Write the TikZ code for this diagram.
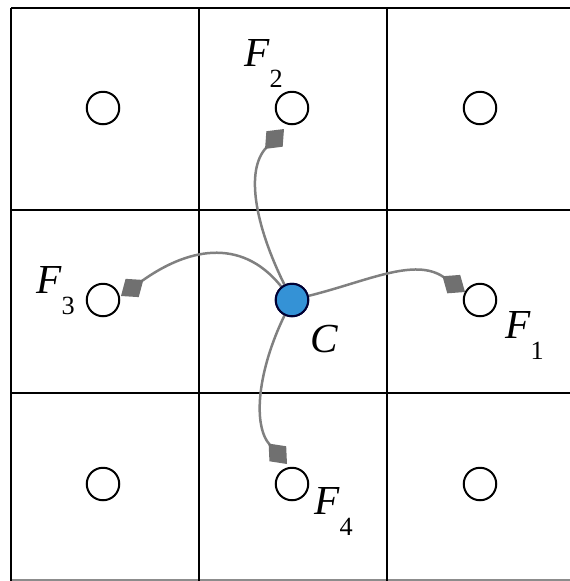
\documentclass[tikz,border=0pt]{standalone}
\usepackage{fontspec}
\setmainfont{Liberation Serif}
\usetikzlibrary{arrows.meta}

\definecolor{cblue}{RGB}{52,146,214}
\definecolor{flowgray}{RGB}{128,128,128}
\definecolor{tipgray}{RGB}{112,112,112}

\newcommand{\fsub}[2]{{\itshape #1}\raisebox{-8.5pt}{\fontsize{10.5}{10.5}\selectfont #2}}

\begin{document}
\begin{tikzpicture}[x=0.4pt,y=-0.4pt,
  site/.style={circle, draw, line width=0.8pt, fill=white, minimum size=13pt, inner sep=0pt},
  centre/.style={site, fill=cblue, draw=black!80!blue},
  flowline/.style={draw=flowgray, line width=1pt, -{Diamond[length=11pt,width=9pt,color=tipgray]}},
  lbl/.style={anchor=base west, inner sep=0pt, font=\fontsize{16.5}{18}\selectfont}]
\useasboundingbox (0,0) rectangle (570,581);
% grid
\draw[line width=1pt] (11,8) -- (570,8);
\draw[line width=1pt] (11,210) -- (570,210);
\draw[line width=1pt] (11,393) -- (570,393);
\draw[line width=1pt, black!45] (11,580) -- (570,580);
\draw[line width=1pt] (11,8) -- (11,581);
\draw[line width=1pt] (199,8) -- (199,581);
\draw[line width=1pt] (387,8) -- (387,581);
% cells
\node[site] (s11) at (103,108) {};
\node[site] (f2) at (292,108) {};
\node[site] (s13) at (480,108) {};
\node[site] (f3) at (103,300) {};
\node[centre] (c) at (292,300) {};
\node[site] (f1) at (480,300) {};
\node[site] (s31) at (103,484) {};
\node[site] (f4) at (292,484) {};
\node[site] (s33) at (480,484) {};
% tip ends
\coordinate (e1) at (465,292);
\coordinate (e2) at (284,129);
\coordinate (e3) at (121,296);
\coordinate (e4) at (287,464);
% flows
\path[flowline] (c) to[out=14,in=145] (e1);
\path[flowline] (c) .. controls (255,225) and (245,170) .. (e2);
\path[flowline] (c) .. controls (240,235) and (185,250) .. (e3);
\path[flowline] (c) .. controls (258,370) and (252,425) .. (e4);
\node[centre] at (c) {};
% labels
\node[lbl] (l2) at (244,66) {\fsub{F}{2}};
\node[lbl] (l3) at (36,293) {\fsub{F}{3}};
\node[lbl] (l1) at (505,338) {\fsub{F}{1}};
\node[lbl] (lc) at (310,352) {\itshape C};
\node[lbl] (l4) at (314,514) {\fsub{F}{4}};
\end{tikzpicture}
\end{document}
